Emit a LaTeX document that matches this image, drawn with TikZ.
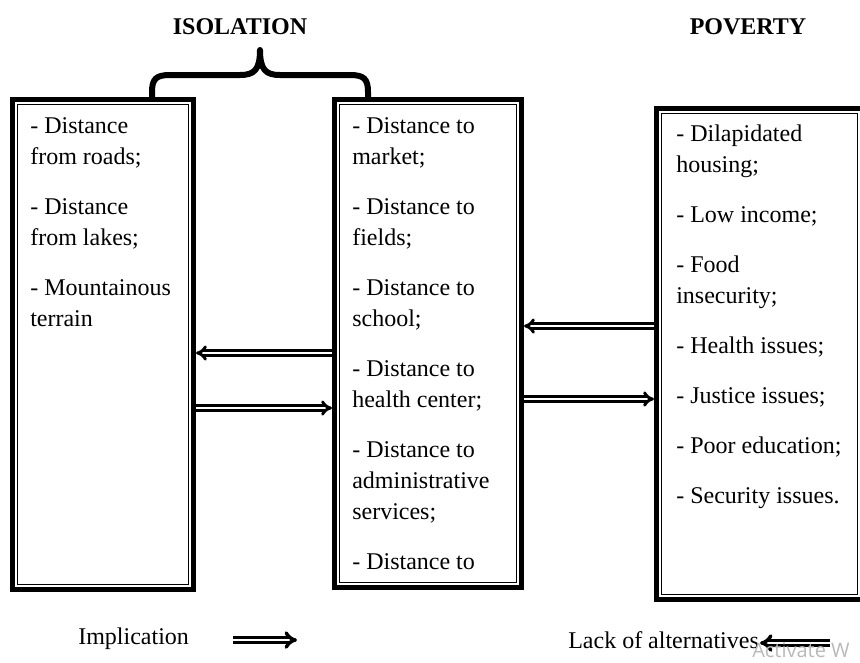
\documentclass[tikz,border=0pt]{standalone}
\usepackage{fontspec}
\setmainfont{Liberation Serif}
\newfontfamily\wmfont{Open Sans}
\usetikzlibrary{arrows.meta}

\tikzset{
	boxframe/.style={draw, line width=3.75pt, inner sep=0pt},
	inframe/.style={draw, line width=1pt},
	items/.style={anchor=north west, align=left, inner sep=0pt, font=\fontsize{18}{23.25}\selectfont},
	legendtxt/.style={anchor=west, inner sep=0pt, font=\fontsize{18}{22}\selectfont},
	heading/.style={font=\fontsize{18}{22}\selectfont\bfseries},
	impl/.style={double, double distance=1.3pt, line width=2.2pt, -{Implies[scale=1.2]}},
	implbig/.style={impl, line width=2.6pt, double distance=1.4pt},
}

\begin{document}
\begin{tikzpicture}[x=0.75pt, y=-0.75pt]
	\clip (0,0) rectangle (860,662);
	\node[heading] (isol) at (240,27) {ISOLATION};
	\node[heading] (pov) at (748,27) {POVERTY};

	\node[boxframe, minimum width=135.75pt, minimum height=367.5pt] (lbox) at (103,344.5) {};
	\node[boxframe, minimum width=140.25pt, minimum height=366pt] (mbox) at (428,343.5) {};
	\node[boxframe, minimum width=154.5pt, minimum height=368.25pt] (rbox) at (759.5,354) {};
	\draw[inframe] ([shift={(7.5,7.5)}]lbox.north west) rectangle ([shift={(-7.5,-7.5)}]lbox.south east);
	\draw[inframe] ([shift={(7.5,7.5)}]mbox.north west) rectangle ([shift={(-7.5,-7.5)}]mbox.south east);
	\draw[inframe] ([shift={(7.5,7.5)}]rbox.north west) rectangle ([shift={(-7.5,-7.5)}]rbox.south east);

	\draw[line width=4.5pt, line join=round] (152,98) -- (152,92) .. controls (152,79) and (156,75) .. (170,75) -- (240,75) .. controls (254,75) and (260,70) .. (260,50) .. controls (260,70) and (266,75) .. (280,75) -- (350,75) .. controls (364,75) and (368,79) .. (368,92) -- (368,98);

	\node[items] (ltext) at (30,117) {- Distance\\from roads;\\[14.25pt]- Distance\\from lakes;\\[14.25pt]- Mountainous\\terrain};
	\node[items] (mtext) at (352,117) {- Distance to\\market;\\[14.25pt]- Distance to\\fields;\\[14.25pt]- Distance to\\school;\\[14.25pt]- Distance to\\health center;\\[14.25pt]- Distance to\\administrative\\services;\\[14.25pt]- Distance to};
	\node[items] (rtext) at (676,125) {- Dilapidated\\housing;\\[14.25pt]- Low income;\\[14.25pt]- Food\\insecurity;\\[14.25pt]- Health issues;\\[14.25pt]- Justice issues;\\[14.25pt]- Poor education;\\[14.25pt]- Security issues.};

	\draw[impl] (mbox.west |- 0,353) -- (lbox.east |- 0,353);
	\draw[impl] (lbox.east |- 0,408) -- (mbox.west |- 0,408);
	\draw[impl] (rbox.west |- 0,326) -- (mbox.east |- 0,326);
	\draw[impl] (mbox.east |- 0,399) -- (rbox.west |- 0,399);

	\node[legendtxt] (imptxt) at (78,639) {Implication};
	\coordinate (imp1) at (233,640);
	\coordinate (imp2) at (297,640);
	\draw[implbig] (imp1) -- (imp2);
	\node[legendtxt] (lacktxt) at (568,640) {Lack of alternatives};
	\coordinate (lack1) at (830,643);
	\coordinate (lack2) at (760,643);
	\draw[implbig] (lack1) -- (lack2);

	\node[anchor=base west, inner sep=0pt, text=gray!55, font=\wmfont\fontsize{15}{18}\selectfont] (wmark) at (752,657) {Activate W};
\end{tikzpicture}
\end{document}
